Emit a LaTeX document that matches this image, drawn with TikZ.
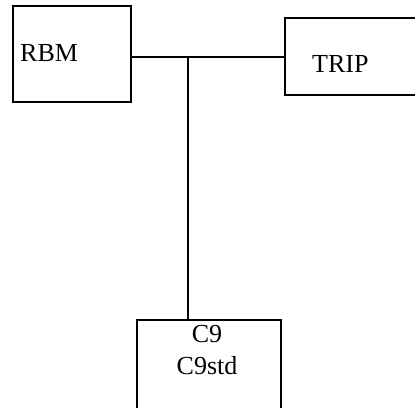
\documentclass[tikz,border=0pt]{standalone}
\usepackage{fontspec}
\setmainfont{Liberation Serif}
\begin{document}
\begin{tikzpicture}[x=1pt,y=1pt,
  box/.style={draw,line width=2.4pt,rectangle,inner sep=0pt,anchor=north west},
  lbl/.style={inner sep=0pt,font=\fontsize{26}{31}\selectfont},
  wire/.style={line width=2.4pt}]
\useasboundingbox (0,0) rectangle (415,407);
\clip (0,0) rectangle (415,407);
\node[box,minimum width=118pt,minimum height=96pt] (rbm) at (12,402) {};
\node[box,minimum width=136pt,minimum height=77pt] (trip) at (284,390) {};
\node[box,minimum width=144pt,minimum height=100pt] (c9) at (136,88) {};
\node[lbl,anchor=base west] (trbm) at (20,345) {RBM};
\node[lbl,anchor=base west] (ttrip) at (312,334) {TRIP};
\node[lbl,anchor=base] (tc9) at (207,64) {C9};
\node[lbl,anchor=base] (tc9s) at (207,32) {C9std};
\coordinate (j) at (188,350);
\draw[wire] (rbm.east|-j) -- (trip.west|-j);
\draw[wire] (j) -- (c9.north-|j);
\end{tikzpicture}
\end{document}
